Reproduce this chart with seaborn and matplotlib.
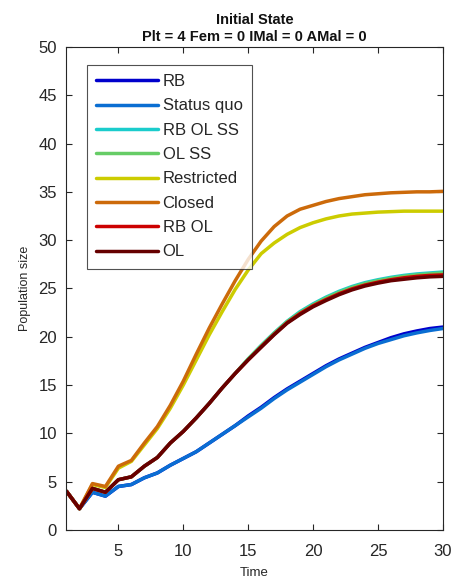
import matplotlib
matplotlib.use('Agg')
import matplotlib.pyplot as plt
import numpy as np
import pandas as pd
import seaborn as sns

time = list(range(1, 31))

rb = [4.0, 2.2, 3.9, 3.5, 4.5, 4.7, 5.4, 5.9, 6.7, 7.4, 8.1, 9.0, 9.9, 10.8, 11.8,
      12.7, 13.7, 14.6, 15.4, 16.2, 17.0, 17.7, 18.3, 18.9, 19.4, 19.9, 20.3, 20.6, 20.85, 21.0]
status_quo = [4.0, 2.2, 3.9, 3.5, 4.5, 4.7, 5.4, 5.9, 6.7, 7.4, 8.1, 9.0, 9.9, 10.8, 11.7,
              12.6, 13.6, 14.5, 15.3, 16.1, 16.9, 17.6, 18.2, 18.8, 19.3, 19.7, 20.1, 20.4, 20.65, 20.85]
rb_ol_ss = [4.0, 2.2, 4.3, 3.9, 5.2, 5.5, 6.6, 7.5, 9.0, 10.2, 11.6, 13.1, 14.7, 16.2, 17.7,
            19.1, 20.4, 21.6, 22.6, 23.4, 24.1, 24.7, 25.2, 25.6, 25.9, 26.15, 26.35, 26.5, 26.6, 26.7]
ol_ss = [4.0, 2.2, 4.3, 3.9, 5.2, 5.5, 6.6, 7.5, 9.0, 10.2, 11.6, 13.1, 14.7, 16.2, 17.7,
         19.05, 20.35, 21.55, 22.5, 23.3, 24.0, 24.6, 25.1, 25.5, 25.8, 26.05, 26.25, 26.4, 26.5, 26.6]
restricted = [4.0, 2.2, 4.7, 4.4, 6.4, 7.1, 8.8, 10.5, 12.6, 15.0, 17.6, 20.2, 22.6, 24.9, 26.9,
              28.6, 29.7, 30.6, 31.3, 31.8, 32.2, 32.5, 32.7, 32.8, 32.9, 32.95, 33.0, 33.0, 33.0, 33.0]
closed = [4.0, 2.2, 4.8, 4.5, 6.6, 7.2, 9.0, 10.7, 12.9, 15.4, 18.2, 20.9, 23.4, 25.8, 28.0,
          29.9, 31.4, 32.5, 33.2, 33.6, 34.0, 34.3, 34.5, 34.7, 34.8, 34.9, 34.95, 35.0, 35.0, 35.05]
rb_ol = [4.0, 2.2, 4.3, 3.9, 5.2, 5.5, 6.6, 7.5, 9.0, 10.2, 11.6, 13.1, 14.7, 16.2, 17.6,
         18.95, 20.25, 21.45, 22.4, 23.2, 23.85, 24.45, 24.95, 25.35, 25.65, 25.9, 26.1, 26.25, 26.35, 26.4]
ol = [4.0, 2.2, 4.3, 3.9, 5.2, 5.5, 6.6, 7.5, 9.0, 10.2, 11.6, 13.1, 14.7, 16.2, 17.6,
      18.9, 20.2, 21.4, 22.3, 23.1, 23.75, 24.35, 24.85, 25.25, 25.55, 25.8, 25.95, 26.1, 26.2, 26.25]

scenarios = ['RB', 'Status quo', 'RB OL SS', 'OL SS', 'Restricted', 'Closed', 'RB OL', 'OL']
series = [rb, status_quo, rb_ol_ss, ol_ss, restricted, closed, rb_ol, ol]
colors = ['#0000CC', '#0A6ED2', '#1ACCCC', '#66CC66', '#CCCC00', '#CC6A0A', '#CC0000', '#660000']

rows = []
for name, vals in zip(scenarios, series):
    for t, v in zip(time, vals):
        rows.append({'Time': t, 'Population size': v, 'Scenario': name})
df = pd.DataFrame(rows)

sns.set_theme(style='white')
plt.rcParams['font.family'] = ['Liberation Sans', 'DejaVu Sans']

fig = plt.figure(figsize=(4.57, 5.83), dpi=100)
ax = fig.add_axes([0.1455, 0.091, 0.8235, 0.8285])

sns.lineplot(data=df, x='Time', y='Population size', hue='Scenario',
             hue_order=scenarios, palette=colors, linewidth=2.5, ax=ax)

ax.set_xlim(1, 30)
ax.set_ylim(0, 50)
ax.set_xticks([5, 10, 15, 20, 25, 30])
ax.set_yticks(np.arange(0, 51, 5))
ax.tick_params(direction='in', length=4, width=0.8, colors='#262626',
               labelsize=12, top=True, right=True, bottom=True, left=True)
ax.tick_params(axis='x', pad=10)
ax.tick_params(axis='y', pad=7)
for tl in ax.get_xticklabels() + ax.get_yticklabels():
    tl.set_color('#262626')
for sp in ax.spines.values():
    sp.set_color('#262626')
    sp.set_linewidth(0.8)

ax.set_xlabel('Time', fontsize=9.5, color='#262626', labelpad=6)
ax.set_ylabel('Population size', fontsize=9, color='#262626', labelpad=5)
ax.set_title('Initial State\nPlt = 4 Fem = 0 IMal = 0 AMal = 0',
             fontsize=10.5, fontweight='bold', color='#111111', pad=4,
             linespacing=1.35)

leg = ax.legend(loc='upper left', bbox_to_anchor=(0.0537, 0.9627), fontsize=12,
                handlelength=3.7, handletextpad=0.3, labelspacing=0.56,
                borderpad=0.55, frameon=True, fancybox=False, borderaxespad=0)
leg.get_frame().set_edgecolor('#262626')
leg.get_frame().set_linewidth(0.8)
for line in leg.get_lines():
    line.set_linewidth(2.5)

fig.savefig('out.png', dpi=100)
